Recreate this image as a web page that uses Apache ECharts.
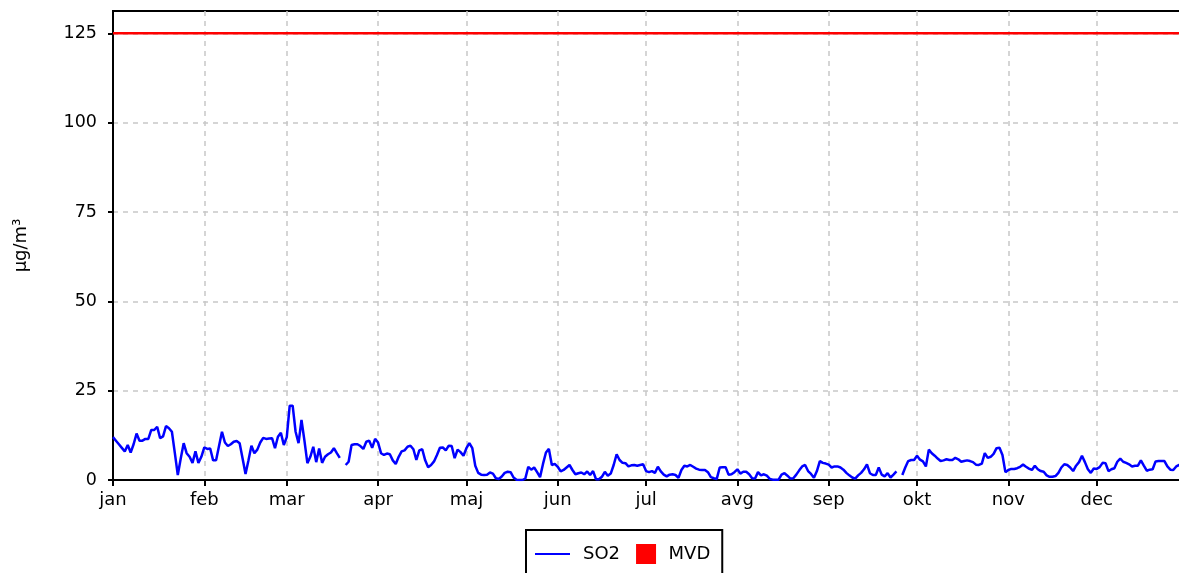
<!DOCTYPE html>
<html><head><meta charset="utf-8">
<script src="https://cdn.jsdelivr.net/npm/echarts@6/dist/echarts.min.js"></script>
<style>html,body{margin:0;padding:0;background:#fff}#c{width:1179px;height:573px}</style>
</head><body><div id="c"></div>
<script>
const YEAR = 2023;
const MONTH_LABELS = ['jan','feb','mar','apr','maj','jun','jul','avg','sep','okt','nov','dec'];
const Y_TICKS = [0, 25, 50, 75, 100, 125];
const Y_MAX = 131.25;
const MVD_LIMIT = 125;

// Daily SO2 values (µg/m³), one array per month; null = missing day
const SO2_JAN = [12,11,10,9,8,9.8,7.7,10,13,11,11,11.5,11.5,14,14,14.9,11.7,12.2,15.1,14.5,13.5,7.5,1.4,6,10.3,7.5,6.5,4.8,8,4.8,6.5];
const SO2_FEB = [9.1,8.7,8.8,5.5,5.5,9.5,13.5,10.5,9.5,10,10.7,10.9,10.3,6,1.7,5.5,9.6,7.5,8.5,10.5,11.8,11.5,11.6,11.7,8.9,12.1,13.2,9.8];
const SO2_MAR = [12,20.8,20.8,13.5,10.3,16.8,11,4.7,6.5,9.3,5,8.8,4.8,6.5,7.2,7.7,8.9,7.5,6.2,null,4.2,5.1,9.8,10,10,9.5,8.7,10.7,11,9,11.5];
const SO2_APR = [10.5,7.5,7,7.4,7.2,5.5,4.5,6.5,8,8.3,9.3,9.6,8.6,5.6,8.3,8.6,5.5,3.6,4.2,5.2,7,9,9.1,8.3,9.6,9.5,6.1,8.5,7.8,6.8];
const SO2_MAY = [8.9,10.3,8.9,4,2,1.5,1.4,1.5,2.1,1.8,0.5,0.3,1,2,2.3,2.2,0.7,0.1,0,0,0.4,3.7,2.9,3.5,2.2,0.8,4.5,7.7,8.7,4.2,4.5];
const SO2_JUN = [3.7,2.4,2.8,3.5,4.2,2.8,1.6,1.9,2.1,1.6,2.4,1.4,2.5,0.2,0.2,0.9,2.3,1.2,1.8,4.2,7.2,5.6,4.8,4.7,3.8,4.1,4.2,4,4.2,4.4];
const SO2_JUL = [2.5,2.2,2.5,2,3.7,2.4,1.5,1,1.5,1.6,1.4,0.6,2.8,4,3.8,4.2,3.7,3.2,2.9,2.8,2.8,2.2,0.8,0.5,0.3,3.5,3.6,3.6,1.5,1.6,2.2];
const SO2_AUG = [3,1.8,2.3,2.3,1.6,0.5,0.4,2.2,1.3,1.6,1.2,0.3,0.1,0.1,0.1,1.5,1.9,1.2,0.4,0.5,1.5,2.7,3.8,4.2,2.5,1.7,0.6,2.5,5.3,4.8,4.6];
const SO2_SEP = [4.3,3.5,3.8,3.8,3.5,2.9,2,1.3,0.7,0.4,1.3,2,3,4.4,1.9,1.4,1.4,3.5,1.5,1,1.9,0.7,1.5,2.4,null,1.4,3.5,5.3,5.6,5.6];
const SO2_OCT = [6.8,5.7,5.2,3.8,8.5,7.5,6.8,6,5.3,5.5,5.8,5.6,5.6,6.2,5.8,5.1,5.3,5.5,5.3,5,4.3,4.2,4.6,7.5,6.2,6.5,7.3,8.9,9,7,2.2];
const SO2_NOV = [2.8,3.1,3.1,3.3,3.7,4.3,3.7,3.2,2.8,4,3,2.5,2.3,1.3,0.9,0.9,1.1,2,3.5,4.4,4.2,3.5,2.5,4,5,6.8,5,3,2,3.2];
const SO2_DEC = [3.1,3.6,4.8,4.7,2.5,3,3.3,5.1,6,5.1,4.8,4.4,3.8,4,4,5.5,4,2.6,2.9,3,5.2,5.3,5.3,5.3,3.8,2.9,2.8,3.8,4.2,4,3.5];
const SO2_MONTHS = [SO2_JAN,SO2_FEB,SO2_MAR,SO2_APR,SO2_MAY,SO2_JUN,SO2_JUL,SO2_AUG,SO2_SEP,SO2_OCT,SO2_NOV,SO2_DEC];

const so2Data = [];
SO2_MONTHS.forEach((vals, m) => vals.forEach((v, d) => {
  so2Data.push([new Date(YEAR, m, d + 1).getTime(), v === null ? '-' : v]);
}));
const tStart = new Date(YEAR, 0, 1).getTime();
const tEnd = new Date(YEAR + 1, 0, 1).getTime();
const DAY = 86400000;

const FONT = 'DejaVu Sans';
const chart = echarts.init(document.getElementById('c'), null, {renderer: 'canvas'});
chart.setOption({
  animation: false,
  backgroundColor: '#fff',
  textStyle: {fontFamily: FONT},
  grid: {left: 113, right: -9, top: 11, bottom: 93, show: true, borderColor: '#000', borderWidth: 2, containLabel: false, outerBoundsMode: 'none'},
  legend: {
    left: 526, top: 530,
    padding: [14, 12, 14, 9],
    borderColor: '#000', borderWidth: 2,
    itemWidth: 35, itemHeight: 20, itemGap: 16,
    symbolKeepAspect: true,
    textStyle: {fontFamily: FONT, fontSize: 18, color: '#000'},
    data: [
      {name: 'SO2', icon: 'path://M0,0H20V1.2H0Z', textStyle: {padding: [0, 0, 0, 8]}},
      {name: 'MVD', icon: 'path://M0,0H10V10H0Z'}
    ]
  },
  xAxis: {
    type: 'time', min: tStart, max: tEnd,
    splitNumber: 12, minInterval: 28 * DAY, maxInterval: 31 * DAY,
    axisLine: {show: true, lineStyle: {color: '#000', width: 2}},
    axisTick: {show: true, length: 6, lineStyle: {color: '#000', width: 2}},
    axisLabel: {
      color: '#000', fontFamily: FONT, fontSize: 18, margin: 11,
      showMaxLabel: false, hideOverlap: false,
      formatter: function (v) {
        const d = new Date(v);
        return (d.getFullYear() === YEAR && d.getDate() === 1) ? MONTH_LABELS[d.getMonth()] : '';
      }
    },
    splitLine: {show: true, lineStyle: {color: '#c8c8c8', width: 1.5, type: [5, 5]}}
  },
  yAxis: {
    type: 'value', min: 0, max: Y_MAX, interval: 25,
    name: 'µg/m³', nameLocation: 'middle', nameGap: 83,
    nameTextStyle: {color: '#000', fontFamily: FONT, fontSize: 18},
    axisLine: {show: true, lineStyle: {color: '#000', width: 2}},
    axisTick: {show: true, length: 5, customValues: Y_TICKS, lineStyle: {color: '#000', width: 2}},
    axisLabel: {color: '#000', fontFamily: FONT, fontSize: 17.5, margin: 16, customValues: Y_TICKS},
    splitLine: {show: true, lineStyle: {color: '#c8c8c8', width: 1.5, type: [5, 5]}}
  },
  series: [
    {
      name: 'SO2', type: 'line', data: so2Data,
      symbol: 'none', showSymbol: false, connectNulls: false,
      lineStyle: {color: '#0000ff', width: 2.5}, itemStyle: {color: '#0000ff'}
    },
    {
      name: 'MVD', type: 'line', data: [[tStart, MVD_LIMIT], [tEnd, MVD_LIMIT]],
      symbol: 'none', showSymbol: false,
      lineStyle: {color: '#ff0000', width: 2.5}, itemStyle: {color: '#ff0000'}
    }
  ]
});
</script>
</body></html>
